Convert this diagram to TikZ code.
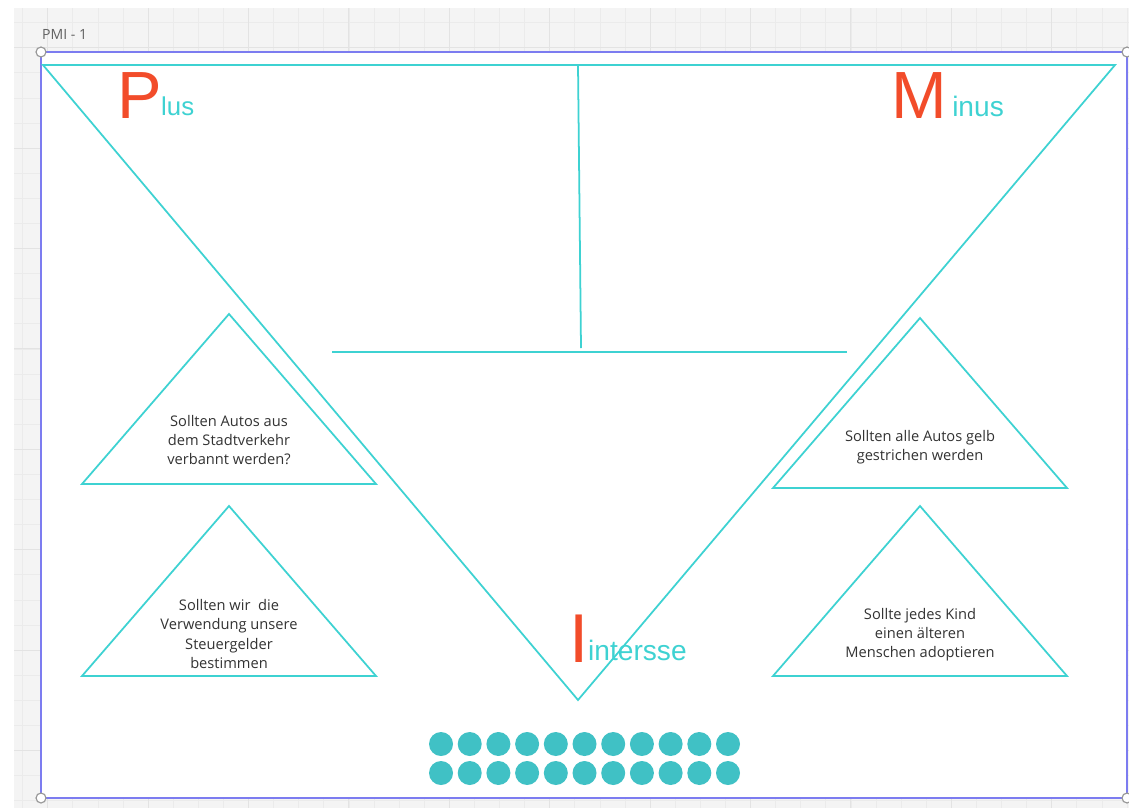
\documentclass[tikz,border=0pt]{standalone}
\usepackage{fontspec}
\setmainfont{Liberation Sans}
\newfontfamily\opensans{Open Sans}
\usetikzlibrary{positioning}

\definecolor{pmicyan}{HTML}{3ED2D2}
\definecolor{pmired}{HTML}{F24C2A}
\definecolor{pmidot}{HTML}{40C1C5}
\definecolor{pmiframe}{HTML}{7C7CF0}
\definecolor{pmigrid}{HTML}{EBEBEB}
\definecolor{pmimajor}{HTML}{E3E3E3}
\definecolor{pmibg}{HTML}{F4F4F4}

\tikzset{
  pmiline/.style={pmicyan, line width=1.5pt},
  bigletter/.style={pmired, font=\fontsize{57}{57}\selectfont, anchor=base west, inner sep=0},
  smallword/.style={pmicyan, font=\fontsize{22}{22}\selectfont, anchor=base west, inner sep=0},
  question/.style={align=center, text=black!80, font=\opensans\fontsize{12.5}{16.3}\selectfont, inner sep=0},
  handle/.style={circle, draw=gray!80, fill=white, line width=1pt, minimum size=8.5pt, inner sep=0}
}

\begin{document}
\begin{tikzpicture}[x=0.03cm, y=-0.03cm]
  \useasboundingbox (0,0) rectangle (1129,808);

  % canvas with grid
  \fill[pmibg] (14,8) rectangle (1129,808);
  \foreach \g in {0,...,44}
    \draw[pmigrid, line width=0.5pt] ({22.5+25.1*\g},8) -- ({22.5+25.1*\g},808);
  \foreach \g in {0,...,31}
    \draw[pmigrid, line width=0.5pt] (14,{22.5+25.1*\g}) -- (1129,{22.5+25.1*\g});
  \foreach \g in {0,...,10}
    \draw[pmimajor, line width=0.6pt] ({47.6+100.4*\g},8) -- ({47.6+100.4*\g},808);
  \foreach \g in {0,...,7}
    \draw[pmimajor, line width=0.6pt] (14,{47.6+100.4*\g}) -- (1129,{47.6+100.4*\g});

  % board
  \node[font=\opensans\fontsize{12}{12}\selectfont, text=black!62, anchor=base west, inner sep=0]
    (title) at (42,39.5) {PMI - 1};
  \coordinate (nw) at (41,52);
  \coordinate (se) at (1127,798);
  \draw[pmiframe, line width=1.3pt, fill=white] (nw) rectangle (se);

  % big V
  \coordinate (vl) at (43,65);
  \coordinate (vr) at (1115,65);
  \coordinate (vb) at (578,700);
  \draw[pmiline] (vl) -- (vr) -- (vb) -- cycle;
  \coordinate (stemtop) at (578,65);
  \coordinate (stembot) at (581,348);
  \draw[pmiline] (stemtop) -- (stembot);
  \coordinate (barl) at (332,352);
  \coordinate (barr) at (847,352);
  \draw[pmiline] (barl) -- (barr);

  % small triangles
  \foreach \n/\x/\y in {plusa/229/314, plusb/229/506, minusa/920/318, minusb/920/506} {
    \coordinate (\n top) at (\x,\y);
    \draw[pmiline] (\n top) -- ++(147,170) -- ++(-294,0) -- cycle;
  }

  \node[question] (plusa text) at (229,440) {Sollten Autos aus\\dem Stadtverkehr\\verbannt werden?};
  \node[question] (plusb text) at (229,634) {Sollten wir\ \ die\\Verwendung unsere\\Steuergelder\\bestimmen};
  \node[question] (minusa text) at (920,447) {Sollten alle Autos gelb\\gestrichen werden};
  \node[question] (minusb text) at (920,635) {Sollte jedes Kind\\einen älteren\\Menschen adoptieren};

  % headings
  \node[bigletter] (p) at (117,118) {P};
  \node[smallword] (lus) at (161,115) {lus};
  \node[bigletter] (m) at (891,118) {M};
  \node[smallword, font=\fontsize{24}{24}\selectfont] (inus) at (952,116) {inus};
  \node[bigletter, font=\fontsize{59}{59}\selectfont] (i) at (569,662) {I};
  \node[smallword, font=\fontsize{24}{24}\selectfont] (intersse) at (588,660) {intersse};

  % dots
  \foreach \r in {744,773}
    \foreach \c in {0,...,10}
      \fill[pmidot] ({441+28.7*\c},\r) circle[radius=12];

  % corner handles
  \foreach \hx/\hy in {41/52, 1127/52, 41/798, 1127/798}
    \node[handle] (handle-\hx-\hy) at (\hx,\hy) {};
\end{tikzpicture}
\end{document}
